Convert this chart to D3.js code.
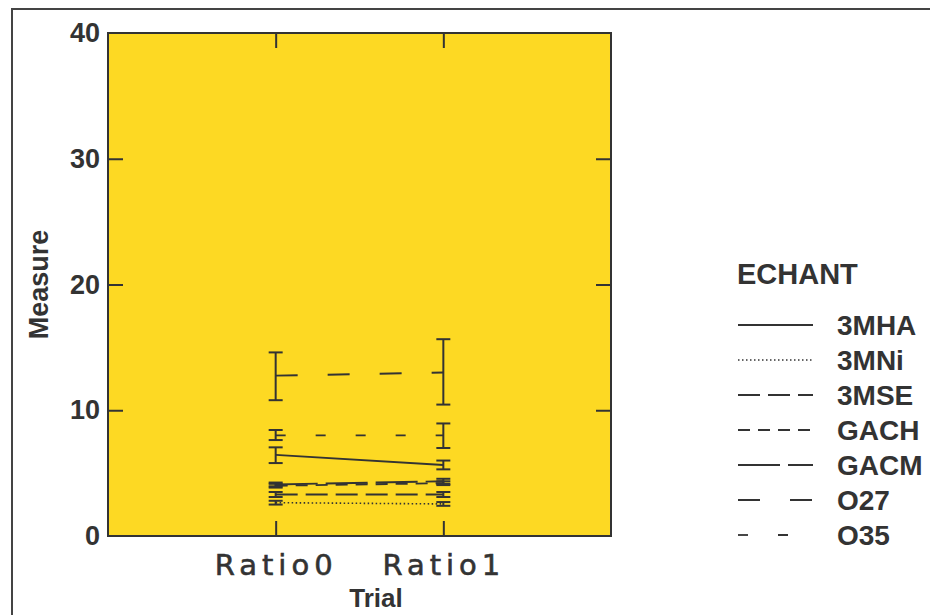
<!DOCTYPE html>
<html>
<head>
<meta charset="utf-8">
<script src="https://cdn.jsdelivr.net/npm/d3@7"></script>
<style>
  html, body { margin: 0; padding: 0; background: #ffffff; }
  svg { display: block; }
</style>
</head>
<body>
<svg id="chart" width="930" height="615"></svg>
<script>
// Trials on the x axis and the sample series (ECHANT)
const trials = ["Ratio0", "Ratio1"];
const series = ["3MHA", "3MNi", "3MSE", "GACH", "GACM", "O27", "O35"];

// Means per series at each trial
const meanRatio0 = [6.45, 2.65, 3.3, 4.0, 4.1, 12.75, 8.0];
const meanRatio1 = [5.65, 2.55, 3.3, 4.2, 4.35, 13.0, 8.0];

// Error-bar bounds per series at each trial
const lowRatio0  = [5.8, 2.5, 3.1, 3.85, 3.95, 10.8, 7.63];
const highRatio0 = [7.05, 2.8, 3.5, 4.15, 4.25, 14.6, 8.43];
const lowRatio1  = [5.3, 2.4, 3.1, 4.05, 4.15, 10.45, 7.0];
const highRatio1 = [6.0, 2.7, 3.5, 4.35, 4.55, 15.65, 8.95];

// Y axis ticks
const yTicks = [0, 10, 20, 30, 40];

// Line dash pattern per series
const dashes = ["none", "1.5,2.5", "22,8", "12,8", "42,8", "22,30", "10,30"];

const svg = d3.select("#chart");
const ink = "#333333";
const sans = "Liberation Sans, Arial, Helvetica, sans-serif";

const plot = { left: 108, top: 33, right: 611, bottom: 536 };

const x = d3.scalePoint().domain(trials).range([plot.left, plot.right]).padding(1);
const y = d3.scaleLinear().domain([0, 40]).range([plot.bottom, plot.top]);

// outer frame
svg.append("rect")
  .attr("x", 12).attr("y", 9)
  .attr("width", 940).attr("height", 640)
  .attr("fill", "none").attr("stroke", "#444").attr("stroke-width", 2);

// plot background
svg.append("rect")
  .attr("x", plot.left).attr("y", plot.top)
  .attr("width", plot.right - plot.left).attr("height", plot.bottom - plot.top)
  .attr("fill", "#FDD923");

// data table built from the arrays
const table = series.map((name, i) => ({
  name,
  dash: dashes[i],
  points: [
    { trial: trials[0], mean: meanRatio0[i], low: lowRatio0[i], high: highRatio0[i] },
    { trial: trials[1], mean: meanRatio1[i], low: lowRatio1[i], high: highRatio1[i] }
  ]
}));

const line = d3.line().x(d => x(d.trial)).y(d => y(d.mean));

const g = svg.append("g");

// series lines
g.selectAll("path.series")
  .data(table)
  .join("path")
  .attr("class", "series")
  .attr("d", d => line(d.points))
  .attr("fill", "none")
  .attr("stroke", ink)
  .attr("stroke-width", d => d.dash === "1.5,2.5" ? 1.6 : 1.9)
  .attr("stroke-dasharray", d => d.dash);

// error bars
const capW = 7;
const bars = g.selectAll("g.err")
  .data(table.flatMap(s => s.points))
  .join("g")
  .attr("class", "err")
  .attr("stroke", ink)
  .attr("stroke-width", 2);

bars.append("line")
  .attr("x1", d => x(d.trial)).attr("x2", d => x(d.trial))
  .attr("y1", d => y(d.low)).attr("y2", d => y(d.high));
bars.append("line")
  .attr("x1", d => x(d.trial) - capW).attr("x2", d => x(d.trial) + capW)
  .attr("y1", d => y(d.low)).attr("y2", d => y(d.low));
bars.append("line")
  .attr("x1", d => x(d.trial) - capW).attr("x2", d => x(d.trial) + capW)
  .attr("y1", d => y(d.high)).attr("y2", d => y(d.high));

// axes with inward ticks
const tickLen = 15;
const axisLeft = svg.append("g")
  .attr("transform", `translate(${plot.left},0)`)
  .call(d3.axisLeft(y).tickValues(yTicks).tickSize(-tickLen).tickPadding(8));
const axisRight = svg.append("g")
  .attr("transform", `translate(${plot.right},0)`)
  .call(d3.axisRight(y).tickValues(yTicks).tickSize(-tickLen).tickFormat(""));
const axisBottom = svg.append("g")
  .attr("transform", `translate(0,${plot.bottom})`)
  .call(d3.axisBottom(x).tickSize(-tickLen).tickPadding(18));
const axisTop = svg.append("g")
  .attr("transform", `translate(0,${plot.top})`)
  .call(d3.axisTop(x).tickSize(-tickLen).tickFormat(""));

[axisLeft, axisRight, axisBottom, axisTop].forEach(a => {
  a.select(".domain").remove();
  a.selectAll(".tick line").attr("stroke", ink).attr("stroke-width", 2);
});
// end ticks sit on the border itself
[axisLeft, axisRight].forEach(a => {
  a.selectAll(".tick").filter(d => d === 0 || d === 40).select("line").remove();
});

axisLeft.selectAll(".tick text")
  .attr("font-family", sans)
  .attr("font-size", 27)
  .attr("font-weight", "bold")
  .attr("fill", ink);

axisBottom.selectAll(".tick text")
  .attr("font-family", "DejaVu Sans, sans-serif")
  .attr("font-size", 29)
  .attr("letter-spacing", 5)
  .attr("stroke", ink)
  .attr("stroke-width", 0.6)
  .attr("fill", ink);

// plot border
svg.append("rect")
  .attr("x", plot.left).attr("y", plot.top)
  .attr("width", plot.right - plot.left).attr("height", plot.bottom - plot.top)
  .attr("fill", "none").attr("stroke", ink).attr("stroke-width", 2);

// axis titles
svg.append("text")
  .attr("transform", `translate(48,${(plot.top + plot.bottom) / 2}) rotate(-90)`)
  .attr("text-anchor", "middle")
  .attr("font-family", sans)
  .attr("font-size", 27)
  .attr("font-weight", "bold")
  .attr("fill", ink)
  .text("Measure");

svg.append("text")
  .attr("x", 376).attr("y", 607)
  .attr("text-anchor", "middle")
  .attr("font-family", "Liberation Sans Narrow, Liberation Sans, sans-serif")
  .attr("font-size", 26)
  .attr("font-weight", "bold")
  .attr("fill", ink)
  .text("Trial");

// legend
const legend = svg.append("g");
legend.append("text")
  .attr("x", 737).attr("y", 284)
  .attr("font-family", sans)
  .attr("font-size", 29)
  .attr("font-weight", "bold")
  .attr("fill", ink)
  .text("ECHANT");

const rowY = d3.scalePoint().domain(series).range([325, 535]);
const rows = legend.selectAll("g.row")
  .data(table)
  .join("g")
  .attr("class", "row")
  .attr("transform", d => `translate(0,${rowY(d.name)})`);
rows.append("line")
  .attr("x1", 738).attr("x2", 813)
  .attr("y1", 0).attr("y2", 0)
  .attr("stroke", ink)
  .attr("stroke-width", d => d.dash === "1.5,2.5" ? 1.5 : 1.8)
  .attr("stroke-dasharray", d => d.dash);
rows.append("text")
  .attr("x", 837).attr("y", 0).attr("dy", "0.36em")
  .attr("font-family", sans)
  .attr("font-size", 28)
  .attr("font-weight", "bold")
  .attr("fill", ink)
  .text(d => d.name);
</script>
</body>
</html>
